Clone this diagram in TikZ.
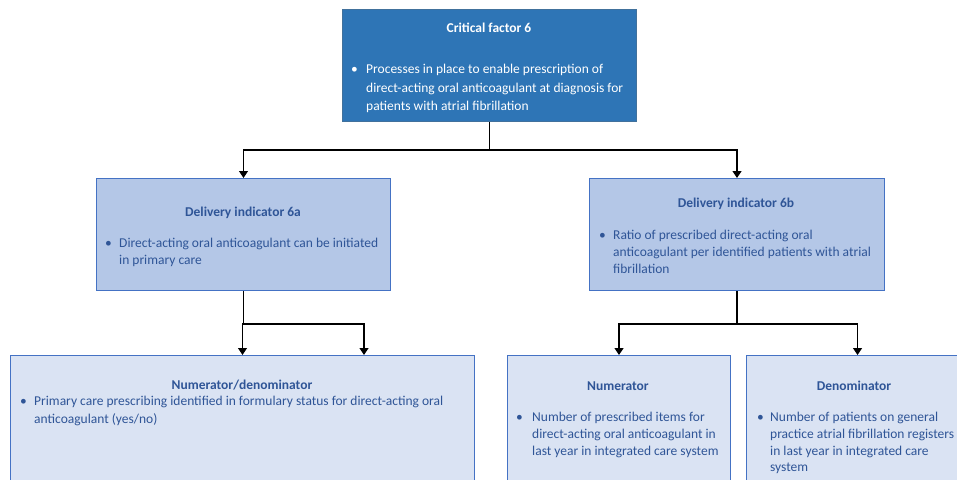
\documentclass[tikz,border=0pt]{standalone}
\usepackage{fontspec}
\setmainfont{Carlito}
\usetikzlibrary{arrows.meta}
\definecolor{critfill}{HTML}{2E75B6}
\definecolor{critdraw}{HTML}{41719C}
\definecolor{midfill}{HTML}{B4C7E7}
\definecolor{middraw}{HTML}{4472C4}
\definecolor{lowfill}{HTML}{DAE3F3}
\definecolor{txtblue}{HTML}{2F5597}
\begin{document}
\begin{tikzpicture}[x=1pt,y=-1pt,
  box/.style={rectangle, anchor=north west, inner sep=0pt, line width=1pt},
  critbox/.style={box, fill=critfill, draw=critdraw},
  midbox/.style={box, fill=midfill, draw=middraw},
  lowbox/.style={box, fill=lowfill, draw=middraw},
  ttl/.style={anchor=base, inner sep=0pt, font=\fontsize{13.5}{16}\selectfont\bfseries},
  ln/.style={anchor=base west, inner sep=0pt, font=\fontsize{13.5}{16}\selectfont},
  conn/.style={draw=black, line width=1.2pt},
  arr/.style={conn, -{Triangle[width=9pt,length=7pt]}}
]
\useasboundingbox (0,0) rectangle (957,479);
\clip (0,0) rectangle (957,479);
\fill[white] (0,0) rectangle (957,479);

% boxes
\node[critbox, minimum width=294, minimum height=112] (crit) at (342,9) {};
\node[midbox, minimum width=294, minimum height=112] (d6a) at (96,178) {};
\node[midbox, minimum width=295, minimum height=112] (d6b) at (589,178) {};
\node[lowbox, minimum width=464, minimum height=160] (nd) at (10,355) {};
\node[lowbox, minimum width=223, minimum height=160] (num) at (507,355) {};
\node[lowbox, minimum width=222, minimum height=160] (den) at (746,355) {};

% connectors
\coordinate (nd2) at (364,355);
\draw[arr] (crit.south) -- ++(0,28) -| (d6a.north);
\draw[arr] (crit.south) -- ++(0,28) -| (d6b.north);
\draw[arr] (d6a.south) -- ++(0,33) -| (nd.north);
\draw[arr] (d6a.south) -- ++(0,33) -| (nd2);
\draw[arr] (d6b.south) -- ++(0,33) -| (num.north);
\draw[arr] (d6b.south) -- ++(0,33) -| (den.north);

% critical factor text
\begin{scope}[text=white]
\node[ttl] (t0) at (489,32) {Critical factor 6};
\node[ln] (b0) at (351,73) {•};
\node[ln] (t0a) at (366,73) {Processes in place to enable prescription of};
\node[ln] (t0b) at (366,92) {direct-acting oral anticoagulant at diagnosis for};
\node[ln] (t0c) at (366,110) {patients with atrial fibrillation};
\end{scope}

\begin{scope}[text=txtblue]
% 6a
\node[ttl] (t1) at (243,216) {Delivery indicator 6a};
\node[ln] (b1) at (105,247) {•};
\node[ln] (t1a) at (119,247) {Direct-acting oral anticoagulant can be initiated};
\node[ln] (t1b) at (119,264) {in primary care};
% 6b
\node[ttl] (t2) at (736,207) {Delivery indicator 6b};
\node[ln] (b2) at (599,239) {•};
\node[ln] (t2a) at (613,239) {Ratio of prescribed direct-acting oral};
\node[ln] (t2b) at (613,256) {anticoagulant per identified patients with atrial};
\node[ln] (t2c) at (613,273) {fibrillation};
% numerator/denominator
\node[ttl] (t3) at (242,389) {Numerator/denominator};
\node[ln] (b3) at (20,405) {•};
\node[ln] (t3a) at (34,405) {Primary care prescribing identified in formulary status for direct-acting oral};
\node[ln] (t3b) at (34,423) {anticoagulant (yes/no)};
% numerator
\node[ttl] (t4) at (618,390) {Numerator};
\node[ln] (b4) at (516,421) {•};
\node[ln] (t4a) at (532,421) {Number of prescribed items for};
\node[ln] (t4b) at (532,438) {direct-acting oral anticoagulant in};
\node[ln] (t4c) at (532,455) {last year in integrated care system};
% denominator
\node[ttl] (t5) at (854,390) {Denominator};
\node[ln] (b5) at (757,421) {•};
\node[ln] (t5a) at (770,421) {Number of patients on general};
\node[ln] (t5b) at (770,438) {practice atrial fibrillation registers};
\node[ln] (t5c) at (770,455) {in last year in integrated care};
\node[ln] (t5d) at (770,471) {system};
\end{scope}
\end{tikzpicture}
\end{document}
